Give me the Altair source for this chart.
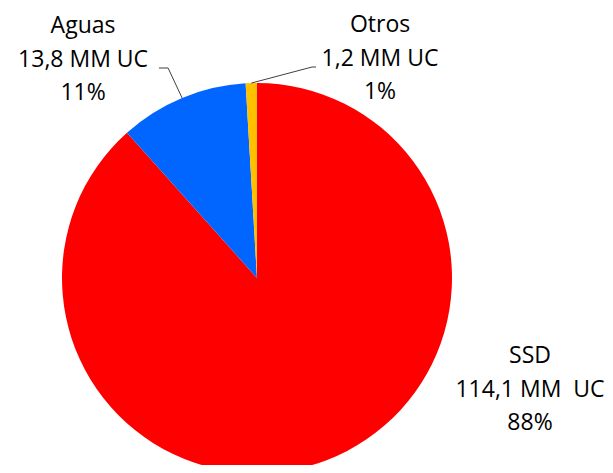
import math
import altair as alt
import pandas as pd

# ---- data ----
categories = ["SSD", "Aguas", "Otros"]
values = [114.1, 13.8, 1.2]
value_labels = ["114,1 MM\u00a0 UC", "13,8 MM UC", "1,2 MM UC"]
percent_labels = ["88%", "11%", "1%"]
colors = ["#FF0000", "#0066FF", "#FFC000"]

# ---- layout (pixels / unit circle coords) ----
W, H = 597, 457
R = 195
CX, CY = 249, 270
label_centre = {"SSD": (1.40, -0.40), "Aguas": (-0.892, 1.292), "Otros": (0.631, 1.297)}
leader_elbows = {
    "Aguas": [(-0.503, 1.077), (-0.456, 1.077)],
    "Otros": [(0.303, 1.082), (0.282, 1.082)],
}

xs = alt.Scale(domain=[-CX / R, (W - CX) / R], range=[0, W], nice=False, zero=False)
ys = alt.Scale(domain=[-(H - CY) / R, CY / R], range=[H, 0], nice=False, zero=False)

total = sum(values)
pie_df = pd.DataFrame({
    "category": categories,
    "value": values,
    "order": list(range(len(categories))),
    "cx": [0.0] * len(categories),
    "cy": [0.0] * len(categories),
})

# label + leader data derived from slice angles
lab_rows, line_rows = [], []
cum = 0.0
for c, v, vl, pl in zip(categories, values, value_labels, percent_labels):
    mid = (cum + v / 2) / total * 2 * math.pi
    cum += v
    lx, ly = label_centre[c]
    lab_rows.append({"category": c, "x": lx, "y": ly, "text": f"{c}\n{vl}\n{pl}"})
    if c in leader_elbows:
        pts = leader_elbows[c] + [(math.sin(mid), math.cos(mid))]
        for i, (px, py) in enumerate(pts):
            line_rows.append({"category": c, "i": i, "x": px, "y": py})
lab_df = pd.DataFrame(lab_rows)
line_df = pd.DataFrame(line_rows)

pie = alt.Chart(pie_df).mark_arc(outerRadius=R, strokeWidth=0).encode(
    x=alt.X("cx:Q", scale=xs, axis=None),
    y=alt.Y("cy:Q", scale=ys, axis=None),
    theta=alt.Theta("value:Q", stack=True),
    order=alt.Order("order:Q"),
    color=alt.Color("category:N", scale=alt.Scale(domain=categories, range=colors), legend=None),
)

leaders = alt.Chart(line_df).mark_line(color="#404040", strokeWidth=1).encode(
    x=alt.X("x:Q", scale=xs, axis=None),
    y=alt.Y("y:Q", scale=ys, axis=None),
    detail="category:N",
    order="i:Q",
)

labels = alt.Chart(lab_df).mark_text(
    font="Open Sans", fontSize=23, lineBreak="\n", lineHeight=33.5,
    align="center", baseline="middle", color="#000000",
).encode(
    x=alt.X("x:Q", scale=xs, axis=None),
    y=alt.Y("y:Q", scale=ys, axis=None),
    text="text:N",
)

chart = alt.layer(pie, leaders, labels).properties(
    width=W, height=H, padding=0, autosize="none"
).configure_view(stroke=None)

chart.save("out.html", embed_options={"renderer": "svg", "actions": False})
